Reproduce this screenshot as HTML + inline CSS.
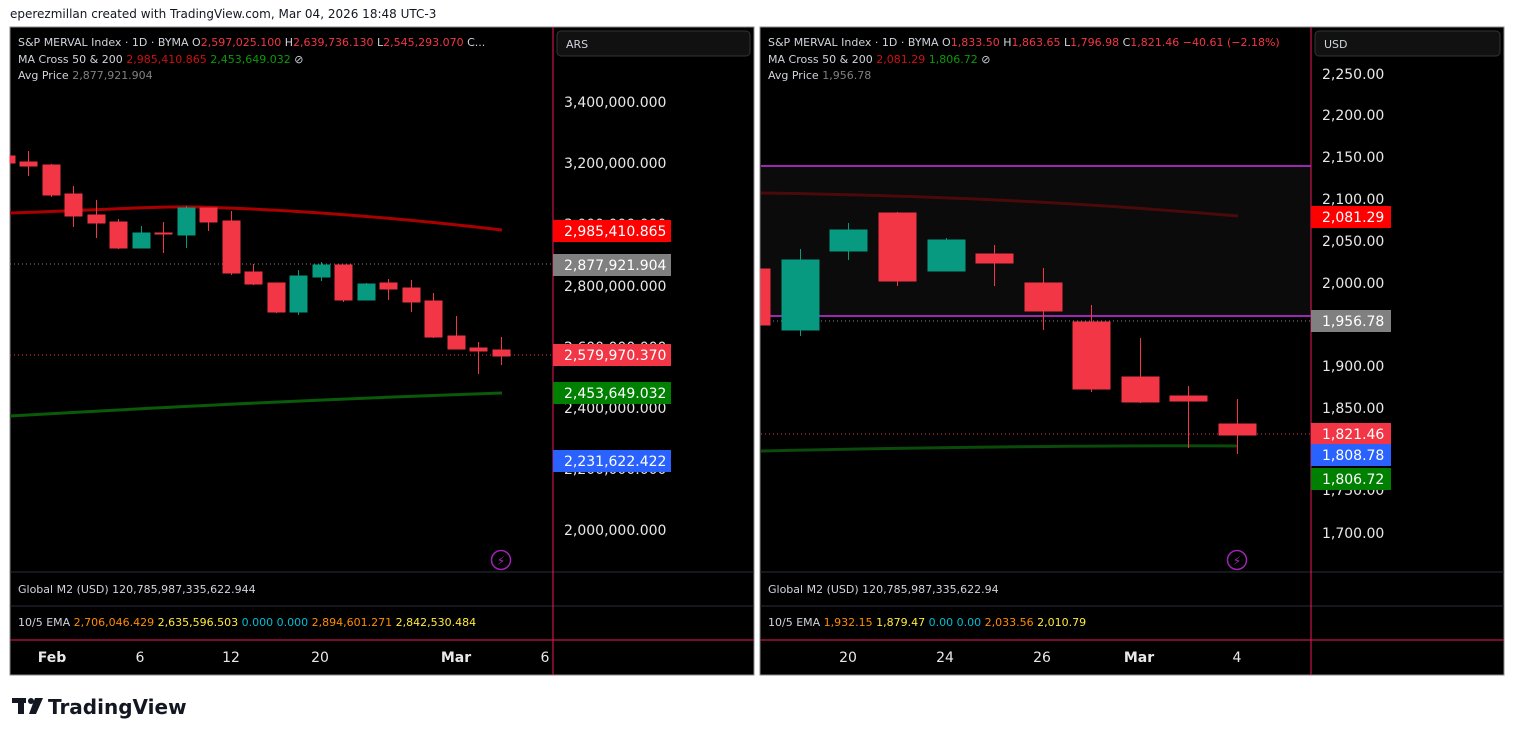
<!DOCTYPE html>
<html><head><meta charset="utf-8"><style>
body{margin:0;background:#fff;width:1515px;height:736px;overflow:hidden;font-family:"Liberation Sans","DejaVu Sans",sans-serif}
svg{position:absolute;left:0;top:0}
text{font-family:"DejaVu Sans","Liberation Sans",sans-serif}
</style></head><body>
<svg width="1515" height="736" viewBox="0 0 1515 736">
<text x="10" y="18" font-size="12" fill="#131722">eperezmillan created with TradingView.com, Mar 04, 2026 18:48 UTC-3</text>

<!-- LEFT PANEL -->
<rect x="10" y="27" width="744" height="648" fill="#000" stroke="#8a8a8a" stroke-width="1"/>
<line x1="10" y1="572" x2="754" y2="572" stroke="#2a2e39"/>
<line x1="10" y1="606" x2="754" y2="606" stroke="#2a2e39"/>
<line x1="10" y1="640" x2="754" y2="640" stroke="#f0185a"/>
<line x1="553" y1="27" x2="553" y2="675" stroke="#f0185a"/>
<rect x="557" y="31" width="193" height="25" rx="4" fill="#111" stroke="#333"/>
<text x="566" y="48" font-size="11" fill="#d1d4dc">ARS</text>
<g font-size="11" fill="#d1d4dc">
<text x="18" y="46">S&amp;P MERVAL Index · 1D · BYMA  O<tspan fill="#f23645">2,597,025.100</tspan>  H<tspan fill="#f23645">2,639,736.130</tspan>  L<tspan fill="#f23645">2,545,293.070</tspan>  C...</text>
<text x="18" y="63">MA Cross 50 &amp; 200  <tspan fill="#d01010">2,985,410.865</tspan>  <tspan fill="#0a9a0a">2,453,649.032</tspan>  ⊘</text>
<text x="18" y="79">Avg Price  <tspan fill="#808080">2,877,921.904</tspan></text>
<text x="18" y="593">Global M2 (USD)  120,785,987,335,622.944</text>
<text x="18" y="626">10/5 EMA  <tspan fill="#ff8c00">2,706,046.429</tspan>  <tspan fill="#ffeb3b">2,635,596.503</tspan>  <tspan fill="#00bcd4">0.000</tspan>  <tspan fill="#00bcd4">0.000</tspan>  <tspan fill="#ff8c00">2,894,601.271</tspan>  <tspan fill="#ffeb3b">2,842,530.484</tspan></text>
</g>
<line x1="10" y1="264" x2="553" y2="264" stroke="#888" stroke-dasharray="1,3"/>
<line x1="10" y1="355" x2="553" y2="355" stroke="#f23645" stroke-dasharray="1,3"/>
<path d="M10,213 C100,210 160,206 200,207 C300,210 400,218 502,230" stroke="#a00" stroke-width="3" fill="none"/>
<path d="M10,416 C150,408 300,400 502,393" stroke="#0a5a0a" stroke-width="3" fill="none"/>
<g stroke-width="1">
<g fill="#f23645" stroke="#f23645">
<rect x="10" y="156" width="5" height="7"/>
<line x1="28.5" y1="151" x2="28.5" y2="176"/><rect x="20" y="162" width="17" height="4"/>
<line x1="51.5" y1="164" x2="51.5" y2="197"/><rect x="43" y="165" width="17" height="30"/>
<line x1="73.5" y1="186" x2="73.5" y2="227"/><rect x="65" y="194" width="17" height="22"/>
<line x1="96.5" y1="200" x2="96.5" y2="238"/><rect x="88" y="215" width="17" height="8"/>
<line x1="118.5" y1="219" x2="118.5" y2="249"/><rect x="110" y="222" width="17" height="26"/>
<line x1="163.5" y1="222" x2="163.5" y2="253"/><rect x="155" y="233" width="17" height="1"/>
<line x1="208.5" y1="208" x2="208.5" y2="231"/><rect x="200" y="208" width="17" height="14"/>
<line x1="231.5" y1="211" x2="231.5" y2="275"/><rect x="223" y="221" width="17" height="52"/>
<line x1="253.5" y1="264" x2="253.5" y2="285"/><rect x="245" y="272" width="17" height="12"/>
<line x1="276.5" y1="283" x2="276.5" y2="313"/><rect x="268" y="283" width="17" height="29"/>
<line x1="343.5" y1="265" x2="343.5" y2="302"/><rect x="335" y="265" width="17" height="35"/>
<line x1="388.5" y1="279" x2="388.5" y2="300"/><rect x="380" y="283" width="17" height="6"/>
<line x1="411.5" y1="280" x2="411.5" y2="312"/><rect x="403" y="288" width="17" height="14"/>
<line x1="433.5" y1="293" x2="433.5" y2="338"/><rect x="425" y="301" width="17" height="36"/>
<line x1="456.5" y1="316" x2="456.5" y2="349"/><rect x="448" y="336" width="17" height="13"/>
<line x1="478.5" y1="342" x2="478.5" y2="374"/><rect x="470" y="348" width="17" height="3"/>
<line x1="501.5" y1="337" x2="501.5" y2="365"/><rect x="493" y="350" width="17" height="6"/>
</g>
<g fill="#089981" stroke="#089981">
<line x1="141.5" y1="226" x2="141.5" y2="248"/><rect x="133" y="233" width="17" height="15"/>
<line x1="186.5" y1="206" x2="186.5" y2="248"/><rect x="178" y="208" width="17" height="27"/>
<line x1="298.5" y1="270" x2="298.5" y2="315"/><rect x="290" y="276" width="17" height="36"/>
<line x1="321.5" y1="262" x2="321.5" y2="281"/><rect x="313" y="265" width="17" height="12"/>
<line x1="366.5" y1="283" x2="366.5" y2="300"/><rect x="358" y="284" width="17" height="16"/>
</g>
</g>
<g font-size="14" fill="#e8e8e8">
<text x="564" y="107">3,400,000.000</text>
<text x="564" y="168">3,200,000.000</text>
<text x="564" y="229">3,000,000.000</text>
<text x="564" y="291">2,800,000.000</text>
<text x="564" y="352">2,600,000.000</text>
<text x="564" y="413">2,400,000.000</text>
<text x="564" y="474">2,200,000.000</text>
<text x="564" y="535">2,000,000.000</text>
</g>
<g font-size="14" fill="#fff">
<rect x="553" y="220" width="118" height="22" fill="#ff0000"/><text x="564" y="236">2,985,410.865</text>
<rect x="553" y="254" width="118" height="22" fill="#808080"/><text x="564" y="270">2,877,921.904</text>
<rect x="553" y="344" width="118" height="22" fill="#f23645"/><text x="564" y="360">2,579,970.370</text>
<rect x="553" y="382" width="118" height="22" fill="#008000"/><text x="564" y="398">2,453,649.032</text>
<rect x="553" y="450" width="118" height="22" fill="#2962ff"/><text x="564" y="466">2,231,622.422</text>
</g>
<circle cx="501" cy="560" r="9.5" fill="none" stroke="#9c27b0" stroke-width="1.5"/>
<text x="501" y="565" font-size="12" fill="#9c27b0" text-anchor="middle">⚡</text>
<g font-size="14" fill="#e8e8e8" text-anchor="middle">
<text x="52" y="662" font-weight="bold">Feb</text><text x="140" y="662">6</text><text x="231" y="662">12</text><text x="320" y="662">20</text><text x="456" y="662" font-weight="bold">Mar</text><text x="545" y="662">6</text>
</g>

<!-- RIGHT PANEL -->
<rect x="760" y="27" width="744" height="648" fill="#000" stroke="#8a8a8a" stroke-width="1"/>
<rect x="761" y="166" width="550" height="150" fill="#0b0b0b"/>
<line x1="760" y1="572" x2="1504" y2="572" stroke="#2a2e39"/>
<line x1="760" y1="606" x2="1504" y2="606" stroke="#2a2e39"/>
<line x1="760" y1="640" x2="1504" y2="640" stroke="#f0185a"/>
<line x1="1311" y1="27" x2="1311" y2="675" stroke="#f0185a"/>
<rect x="1315" y="31" width="185" height="25" rx="4" fill="#111" stroke="#333"/>
<text x="1324" y="48" font-size="11" fill="#d1d4dc">USD</text>
<g font-size="11" fill="#d1d4dc">
<text x="768" y="46">S&amp;P MERVAL Index · 1D · BYMA  O<tspan fill="#f23645">1,833.50</tspan>  H<tspan fill="#f23645">1,863.65</tspan>  L<tspan fill="#f23645">1,796.98</tspan>  C<tspan fill="#f23645">1,821.46  −40.61 (−2.18%)</tspan></text>
<text x="768" y="63">MA Cross 50 &amp; 200  <tspan fill="#d01010">2,081.29</tspan>  <tspan fill="#0a9a0a">1,806.72</tspan>  ⊘</text>
<text x="768" y="79">Avg Price  <tspan fill="#808080">1,956.78</tspan></text>
<text x="768" y="593">Global M2 (USD)  120,785,987,335,622.94</text>
<text x="768" y="626">10/5 EMA  <tspan fill="#ff8c00">1,932.15</tspan>  <tspan fill="#ffeb3b">1,879.47</tspan>  <tspan fill="#00bcd4">0.00</tspan>  <tspan fill="#00bcd4">0.00</tspan>  <tspan fill="#ff8c00">2,033.56</tspan>  <tspan fill="#ffeb3b">2,010.79</tspan></text>
</g>
<line x1="761" y1="166" x2="1311" y2="166" stroke="#9c27b0" stroke-width="2"/>
<line x1="761" y1="316" x2="1311" y2="316" stroke="#9c27b0" stroke-width="2"/>
<line x1="761" y1="321" x2="1311" y2="321" stroke="#888" stroke-dasharray="1,3"/>
<line x1="761" y1="434" x2="1311" y2="434" stroke="#f23645" stroke-dasharray="1,3"/>
<path d="M761,193 C900,195 1050,200 1238,216" stroke="#4a0a0a" stroke-width="3" fill="none"/>
<path d="M761,451 C950,447 1100,445 1238,446" stroke="#0a4a0a" stroke-width="3" fill="none"/>
<g fill="#f23645" stroke="#f23645">
<rect x="761" y="269" width="9" height="56"/>
<line x1="897.5" y1="212" x2="897.5" y2="286"/><rect x="879" y="213" width="37" height="68"/>
<line x1="994.5" y1="245" x2="994.5" y2="286"/><rect x="976" y="254" width="37" height="9"/>
<line x1="1043.5" y1="268" x2="1043.5" y2="330"/><rect x="1025" y="283" width="37" height="28"/>
<line x1="1091.5" y1="305" x2="1091.5" y2="392"/><rect x="1073" y="322" width="37" height="67"/>
<line x1="1140.5" y1="338" x2="1140.5" y2="403"/><rect x="1122" y="377" width="37" height="25"/>
<line x1="1188.5" y1="386" x2="1188.5" y2="448"/><rect x="1170" y="396" width="37" height="5"/>
<line x1="1237.5" y1="399" x2="1237.5" y2="454"/><rect x="1219" y="424" width="37" height="11"/>
</g>
<g fill="#089981" stroke="#089981">
<line x1="800.5" y1="249" x2="800.5" y2="336"/><rect x="782" y="260" width="37" height="70"/>
<line x1="848.5" y1="223" x2="848.5" y2="260"/><rect x="830" y="230" width="37" height="21"/>
<line x1="946.5" y1="238" x2="946.5" y2="242"/><rect x="928" y="240" width="37" height="31"/>
</g>
<g font-size="14" fill="#e8e8e8">
<text x="1322" y="79">2,250.00</text><text x="1322" y="120">2,200.00</text><text x="1322" y="162">2,150.00</text>
<text x="1322" y="204">2,100.00</text><text x="1322" y="246">2,050.00</text><text x="1322" y="288">2,000.00</text>
<text x="1322" y="371">1,900.00</text><text x="1322" y="413">1,850.00</text><text x="1322" y="495">1,750.00</text><text x="1322" y="538">1,700.00</text>
</g>
<g font-size="14" fill="#fff">
<rect x="1311" y="206" width="80" height="22" fill="#ff0000"/><text x="1322" y="222">2,081.29</text>
<rect x="1311" y="310" width="80" height="22" fill="#808080"/><text x="1322" y="326">1,956.78</text>
<rect x="1311" y="423" width="80" height="22" fill="#f23645"/><text x="1322" y="439">1,821.46</text>
<rect x="1311" y="444" width="80" height="22" fill="#2962ff"/><text x="1322" y="460">1,808.78</text>
<rect x="1311" y="468" width="80" height="22" fill="#008000"/><text x="1322" y="484">1,806.72</text>
</g>
<circle cx="1237" cy="560" r="9.5" fill="none" stroke="#9c27b0" stroke-width="1.5"/>
<text x="1237" y="565" font-size="12" fill="#9c27b0" text-anchor="middle">⚡</text>
<g font-size="14" fill="#e8e8e8" text-anchor="middle">
<text x="848" y="662">20</text><text x="945" y="662">24</text><text x="1042" y="662">26</text><text x="1139" y="662" font-weight="bold">Mar</text><text x="1237" y="662">4</text>
</g>

<!-- logo -->
<rect x="12" y="698" width="14" height="5" fill="#131722"/><rect x="18" y="698" width="6" height="16" fill="#131722"/>
<circle cx="31" cy="701" r="3" fill="#131722"/><path d="M35,698 L43,698 L36,714 L29,714 Z" fill="#131722"/>
<text x="48" y="714" font-size="20" font-weight="bold" fill="#131722" font-family="Liberation Sans, sans-serif">TradingView</text>
</svg>
</body></html>
